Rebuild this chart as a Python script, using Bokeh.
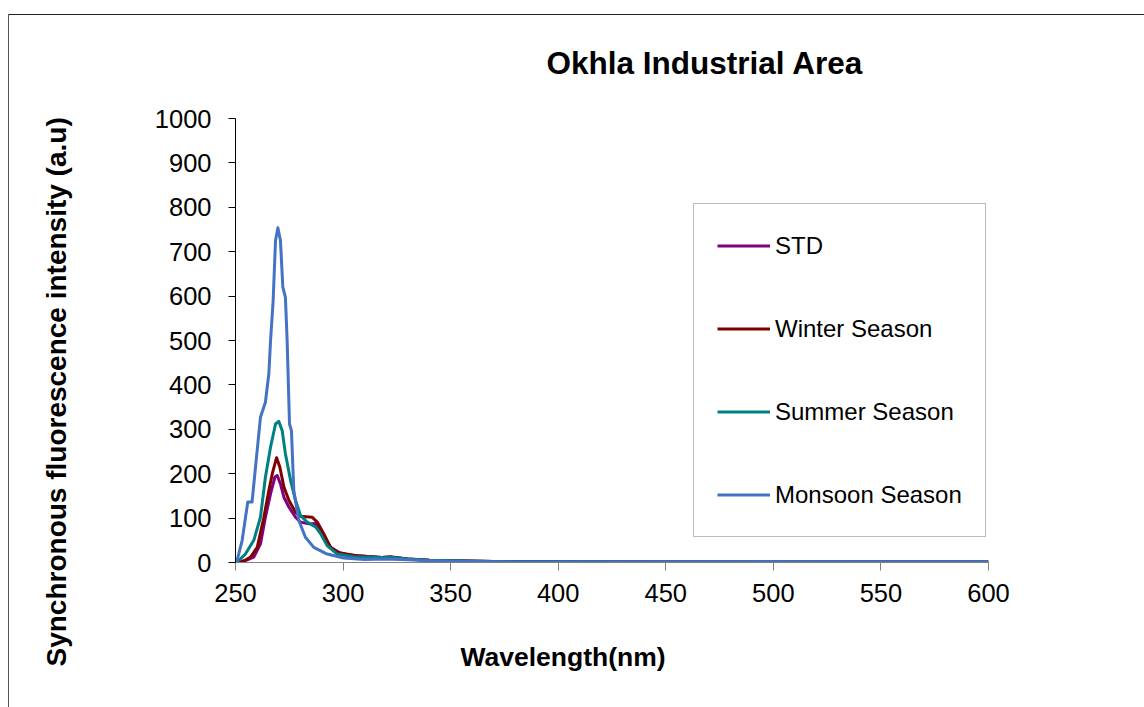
from bokeh.plotting import figure
from bokeh.models import Legend, LegendItem, Title, FixedTicker, Range1d
from bokeh.embed import file_html
from bokeh.resources import INLINE

# ---------------- data ----------------
title_text = "Okhla Industrial Area"
x_label = "Wavelength(nm)"
y_label = "Synchronous fluorescence intensity (a.u)"
x_ticks = [250, 300, 350, 400, 450, 500, 550, 600]
y_ticks = [0, 100, 200, 300, 400, 500, 600, 700, 800, 900, 1000]
series_names = ["STD", "Winter Season", "Summer Season", "Monsoon Season"]

std_wl = [250.5, 254, 258.5, 261.6, 263.9, 266.3, 268.3, 269.4, 270.9, 272.5, 274.8,
          277.9, 280.2, 284.1, 287.2, 290.2, 294.2, 299, 306.7, 318, 322, 330, 340,
          350, 370, 400, 450, 500, 550, 600]
std_val = [0, 3, 12, 42, 102, 155, 192, 196, 177, 147, 125,
           102, 91, 87, 88, 65, 34, 20, 15, 11, 12, 8, 5,
           4, 2, 1.5, 1, 1, 1, 1]

winter_wl = [250.5, 254, 257, 260.1, 263.2, 265.5, 267.1, 269.1, 270.6, 272.5, 274.8,
             277.9, 280.2, 285.6, 288, 291, 294.2, 297.3, 305, 318, 322, 330, 340,
             350, 370, 400, 450, 500, 550, 600]
winter_val = [0, 4, 12, 34, 102, 162, 200, 236, 215, 170, 140,
              113, 104, 102, 91, 65, 34, 23, 16, 11, 13, 8, 5,
              4, 2, 1.5, 1, 1, 1, 1]

summer_wl = [250.5, 254.6, 258.5, 261.6, 263.9, 266.3, 268.6, 270.1, 271.7, 273.2, 275.6,
             277.9, 280.2, 283.3, 287.2, 289.5, 292.6, 297.3, 305, 318, 322, 330, 340,
             350, 370, 400, 450, 500, 550, 600]
summer_val = [0, 19, 50, 102, 192, 260, 312, 318, 297, 245, 185,
              140, 106, 91, 80, 65, 38, 19, 13, 11, 12, 8, 5,
              4, 2, 1.5, 1, 1, 1, 1]

monsoon_wl = [250.5, 253.1, 255.7, 257.7, 259.3, 261.6, 263.9, 265.5, 266.3, 267.5, 268.6,
              269.7, 270.9, 272.0, 273.2, 274.0, 275.1, 276.0, 277.1, 279.4, 282.5, 286.4,
              292.6, 300.3, 310, 320, 330, 340, 350, 370, 400, 450, 500, 550, 600]
monsoon_val = [0, 50, 136, 136, 215, 327, 361, 425, 500, 590, 725,
               754, 725, 620, 597, 500, 312, 297, 162, 95, 57, 34,
               19, 10, 7, 8, 6, 4, 3, 1.5, 1, 1, 1.5, 1, 1]

colors = ["#800080", "#800000", "#008080", "#4472C4"]

FONT = "Liberation Sans"

# ---------------- figure ----------------
p = figure(width=1144, height=707, output_backend="svg", toolbar_location=None,
           x_range=Range1d(250, 600), y_range=Range1d(0, 1000),
           min_border_left=235, min_border_right=156, min_border_top=118, min_border_bottom=145)
p.outline_line_color = None
p.grid.grid_line_color = None
p.background_fill_color = None
p.border_fill_color = None
# outer chart-area border (only its top and left edges fall inside the picture)
p.styles = {
    "background-color": "white",
    "background-image": "linear-gradient(#222, #222), linear-gradient(#555, #555)",
    "background-size": "100% 1px, 1px 100%",
    "background-position": "9px 14px, 8px 14px",
    "background-repeat": "no-repeat",
}

# title (placed to the right like the reference)
p.title.text = title_text
p.title.align = "left"
p.title.offset = 311
p.title.text_font = FONT
p.title.text_font_size = "31.5px"
p.title.text_font_style = "bold"
p.title.text_color = "black"
p.title.standoff = 76

xa = p.xaxis[0]
xa.ticker = FixedTicker(ticks=x_ticks)
xa.axis_line_color = "#808080"
xa.major_tick_line_color = "#808080"
xa.major_tick_out = 8
xa.major_tick_in = 0
xa.minor_tick_line_color = None
xa.major_label_text_font = FONT
xa.major_label_text_font_size = "25.5px"
xa.major_label_text_color = "black"
xa.major_label_standoff = 13

ya = p.yaxis[0]
ya.ticker = FixedTicker(ticks=y_ticks)
ya.axis_line_color = "black"
ya.major_tick_line_color = "black"
ya.major_tick_out = 7
ya.major_tick_in = 0
ya.minor_tick_line_color = None
ya.major_label_text_font = FONT
ya.major_label_text_font_size = "25.5px"
ya.major_label_text_color = "black"
ya.major_label_standoff = 17

p.add_layout(Title(text=x_label, align="left", offset=225, text_font=FONT, text_color="black",
                   text_font_size="26.5px", text_font_style="bold", standoff=70), "below")
# empty spacer between the y axis and its title
p.add_layout(Title(text=" ", text_font=FONT, text_font_size="10px", standoff=62), "left")
p.add_layout(Title(text=y_label, align="left", offset=-104, text_font=FONT, text_color="black",
                   text_font_size="28px", text_font_style="bold", standoff=10), "left")

wls = [std_wl, winter_wl, summer_wl, monsoon_wl]
vals = [std_val, winter_val, summer_val, monsoon_val]
renderers = []
for wl, v, c in zip(wls, vals, colors):
    r = p.line(wl, v, line_color=c, line_width=3, line_join="round")
    renderers.append(r)

legend = Legend(items=[LegendItem(label=n, renderers=[r]) for n, r in zip(series_names, renderers)],
                location=(458, 25))
legend.label_text_font = FONT
legend.label_text_font_size = "24px"
legend.label_text_color = "black"
legend.label_standoff = 5
legend.glyph_width = 53
legend.glyph_height = 37
legend.label_height = 37
legend.padding = 23
legend.spacing = 46
legend.margin = 0
legend.border_line_color = "#777777"
legend.border_line_width = 1
legend.background_fill_color = "white"
legend.background_fill_alpha = 1
p.add_layout(legend, "center")

open("out.html", "w").write(file_html(p, INLINE))
